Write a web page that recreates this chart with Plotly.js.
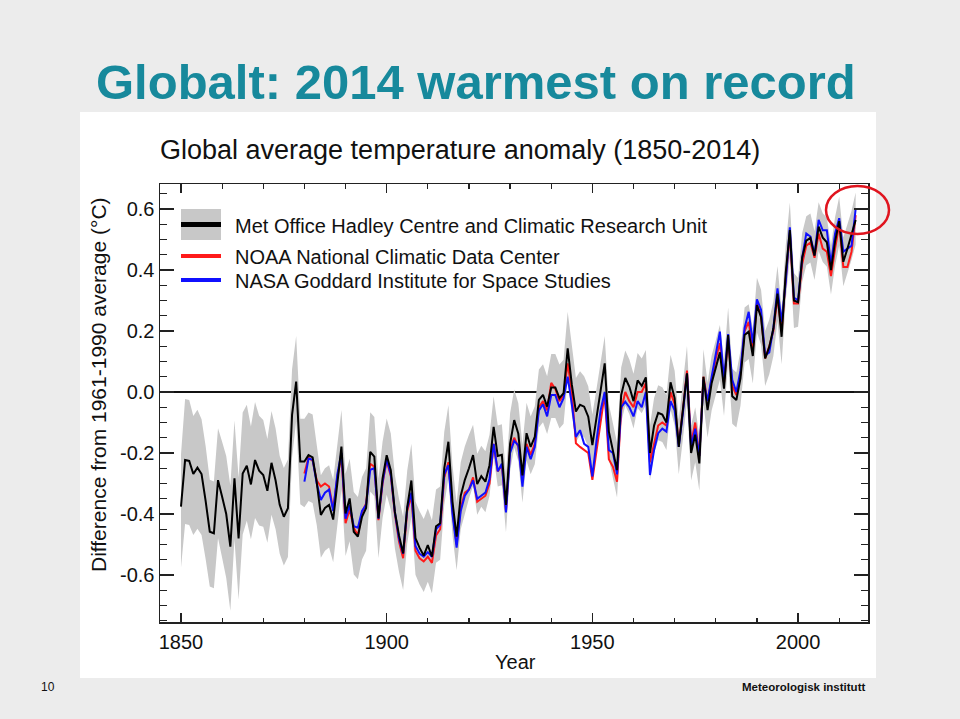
<!DOCTYPE html>
<html>
<head>
<meta charset="utf-8">
<script src="https://cdn.plot.ly/plotly-3.0.1.min.js"></script>
<style>
html,body{margin:0;padding:0;background:#ececec;}
#chart{width:960px;height:719px;}
</style>
</head>
<body>
<div id="chart"></div>
<script>
// ---------------- DATA ----------------
const hadStartYear = 1850;
// HadCRUT (Met Office Hadley Centre / CRU) annual anomaly, degC vs 1961-1990
const hadcrut = [
 -0.376,-0.223,-0.226,-0.269,-0.248,-0.269,-0.358,-0.458,-0.463,-0.289,
 -0.343,-0.400,-0.507,-0.283,-0.480,-0.267,-0.242,-0.303,-0.223,-0.258,
 -0.272,-0.324,-0.232,-0.290,-0.370,-0.409,-0.381,-0.075,0.034,-0.228,
 -0.228,-0.207,-0.214,-0.296,-0.403,-0.380,-0.370,-0.418,-0.300,-0.179,
 -0.398,-0.349,-0.458,-0.474,-0.409,-0.380,-0.196,-0.212,-0.414,-0.283,
 -0.207,-0.256,-0.393,-0.470,-0.529,-0.377,-0.290,-0.479,-0.511,-0.536,
 -0.502,-0.540,-0.440,-0.430,-0.250,-0.163,-0.360,-0.474,-0.340,-0.288,
 -0.250,-0.207,-0.302,-0.276,-0.294,-0.240,-0.114,-0.210,-0.206,-0.370,
 -0.170,-0.092,-0.137,-0.273,-0.135,-0.180,-0.147,-0.026,-0.009,-0.048,
 0.015,0.015,-0.020,-0.004,0.143,0.025,-0.064,-0.042,-0.048,-0.081,
 -0.174,-0.080,0.012,0.094,-0.129,-0.190,-0.256,-0.010,0.046,0.017,
 -0.030,0.038,0.020,0.048,-0.200,-0.110,-0.068,-0.074,-0.100,0.032,
 -0.020,-0.180,-0.065,0.061,-0.200,-0.140,-0.234,0.050,-0.059,0.030,
 0.080,0.130,0.011,0.187,-0.014,-0.026,0.045,0.187,0.198,0.118,
 0.285,0.245,0.110,0.148,0.208,0.323,0.181,0.390,0.531,0.300,
 0.294,0.441,0.496,0.505,0.447,0.542,0.506,0.491,0.400,0.494,
 0.560,0.427,0.470,0.514,0.564
];
// Uncertainty above / below the HadCRUT value (grey band)
const hadUncUp = [
 0.17,0.20,0.20,0.19,0.19,0.18,0.18,0.17,0.17,0.17,
 0.18,0.19,0.20,0.19,0.20,0.20,0.20,0.19,0.19,0.18,
 0.18,0.17,0.17,0.17,0.16,0.16,0.16,0.15,0.15,0.14,
 0.14,0.14,0.14,0.13,0.13,0.13,0.13,0.13,0.12,0.12,
 0.13,0.13,0.13,0.13,0.13,0.13,0.13,0.13,0.13,0.12,
 0.12,0.12,0.12,0.12,0.12,0.12,0.12,0.12,0.12,0.12,
 0.12,0.12,0.12,0.12,0.12,0.12,0.12,0.11,0.11,0.11,
 0.11,0.10,0.10,0.10,0.10,0.10,0.10,0.10,0.10,0.10,
 0.10,0.10,0.10,0.10,0.10,0.10,0.10,0.10,0.10,0.10,
 0.11,0.11,0.11,0.11,0.12,0.12,0.11,0.11,0.10,0.10,
 0.10,0.09,0.09,0.09,0.09,0.09,0.09,0.09,0.09,0.09,
 0.09,0.09,0.09,0.09,0.09,0.09,0.09,0.09,0.09,0.09,
 0.09,0.09,0.09,0.09,0.09,0.09,0.09,0.09,0.09,0.09,
 0.09,0.09,0.09,0.09,0.09,0.09,0.09,0.09,0.09,0.09,
 0.09,0.09,0.09,0.09,0.09,0.09,0.09,0.09,0.09,0.09,
 0.08,0.08,0.08,0.08,0.08,0.08,0.08,0.08,0.08,0.08,
 0.08,0.08,0.08,0.08,0.09
];
const hadUncDown = [
 0.20,0.21,0.21,0.20,0.20,0.20,0.19,0.18,0.18,0.19,
 0.20,0.21,0.21,0.20,0.20,0.20,0.18,0.18,0.19,0.18,
 0.17,0.17,0.17,0.16,0.16,0.16,0.16,0.14,0.13,0.14,
 0.15,0.15,0.15,0.14,0.14,0.14,0.14,0.14,0.14,0.14,
 0.14,0.14,0.14,0.14,0.14,0.14,0.13,0.13,0.13,0.13,
 0.13,0.13,0.12,0.12,0.12,0.12,0.12,0.12,0.12,0.12,
 0.12,0.12,0.12,0.12,0.12,0.12,0.11,0.11,0.11,0.11,
 0.10,0.10,0.10,0.10,0.10,0.10,0.10,0.10,0.10,0.09,
 0.09,0.09,0.09,0.09,0.09,0.09,0.09,0.09,0.09,0.09,
 0.10,0.10,0.10,0.10,0.10,0.10,0.10,0.10,0.10,0.10,
 0.10,0.09,0.09,0.09,0.09,0.09,0.09,0.09,0.09,0.09,
 0.09,0.09,0.09,0.09,0.09,0.09,0.09,0.09,0.09,0.09,
 0.09,0.09,0.09,0.09,0.09,0.09,0.09,0.09,0.09,0.09,
 0.09,0.09,0.09,0.09,0.09,0.09,0.09,0.09,0.09,0.09,
 0.09,0.09,0.09,0.09,0.09,0.09,0.09,0.09,0.09,0.09,
 0.08,0.08,0.08,0.08,0.08,0.08,0.08,0.08,0.08,0.08,
 0.08,0.08,0.08,0.08,0.08
];

const otherStartYear = 1880;
// NOAA National Climatic Data Center
const noaa = [
 -0.267,-0.215,-0.225,-0.290,-0.310,-0.300,-0.310,-0.385,-0.280,-0.210,
 -0.430,-0.385,-0.445,-0.470,-0.395,-0.365,-0.235,-0.245,-0.420,-0.300,
 -0.225,-0.275,-0.400,-0.490,-0.545,-0.390,-0.340,-0.520,-0.545,-0.555,
 -0.540,-0.560,-0.470,-0.450,-0.280,-0.230,-0.390,-0.500,-0.380,-0.330,
 -0.320,-0.280,-0.360,-0.350,-0.340,-0.300,-0.170,-0.260,-0.240,-0.390,
 -0.190,-0.150,-0.180,-0.290,-0.170,-0.205,-0.170,-0.050,-0.030,-0.060,
 0.030,0.010,-0.030,-0.010,0.094,0.000,-0.168,-0.180,-0.190,-0.200,
 -0.288,-0.190,-0.100,-0.005,-0.220,-0.245,-0.294,-0.060,0.000,-0.030,
 -0.050,0.000,0.000,0.030,-0.230,-0.170,-0.110,-0.100,-0.110,0.000,
 -0.040,-0.170,-0.060,0.070,-0.170,-0.100,-0.210,0.050,-0.030,0.040,
 0.110,0.160,0.030,0.170,0.020,-0.010,0.060,0.200,0.230,0.140,
 0.290,0.250,0.110,0.150,0.200,0.310,0.200,0.370,0.520,0.290,
 0.290,0.420,0.480,0.490,0.440,0.520,0.470,0.460,0.380,0.470,
 0.550,0.410,0.410,0.460,0.580
];
// NASA Goddard Institute for Space Studies
const nasa = [
 -0.294,-0.218,-0.222,-0.300,-0.354,-0.330,-0.320,-0.390,-0.270,-0.200,
 -0.415,-0.370,-0.440,-0.445,-0.390,-0.370,-0.255,-0.250,-0.415,-0.295,
 -0.220,-0.270,-0.395,-0.480,-0.530,-0.380,-0.330,-0.505,-0.530,-0.540,
 -0.525,-0.540,-0.450,-0.435,-0.270,-0.240,-0.400,-0.510,-0.390,-0.340,
 -0.320,-0.290,-0.350,-0.340,-0.330,-0.285,-0.170,-0.260,-0.235,-0.395,
 -0.200,-0.160,-0.175,-0.310,-0.180,-0.220,-0.180,-0.060,-0.040,-0.080,
 -0.010,-0.010,-0.050,-0.020,0.050,-0.040,-0.147,-0.125,-0.170,-0.180,
 -0.277,-0.160,-0.060,0.000,-0.190,-0.200,-0.270,-0.050,-0.032,-0.050,
 -0.080,-0.030,-0.050,0.000,-0.272,-0.190,-0.135,-0.120,-0.130,-0.030,
 -0.060,-0.180,-0.070,0.060,-0.180,-0.120,-0.210,0.040,-0.030,0.050,
 0.130,0.198,0.040,0.190,0.040,0.000,0.070,0.210,0.263,0.160,
 0.304,0.270,0.120,0.130,0.210,0.340,0.230,0.360,0.540,0.310,
 0.300,0.440,0.520,0.510,0.450,0.564,0.530,0.530,0.420,0.520,
 0.570,0.460,0.470,0.480,0.600
];

const seriesNames = [
 'Met Office Hadley Centre and Climatic Research Unit',
 'NOAA National Climatic Data Center',
 'NASA Goddard Institute for Space Studies'
];
const yTickVals = [-0.6,-0.4,-0.2,0,0.2,0.4,0.6];
const yTickText = ['-0.6','-0.4','-0.2','0.0','0.2','0.4','0.6'];
const xTickVals = [1850,1900,1950,2000];

// ---------------- BUILD ----------------
const hadYears = hadcrut.map((_, i) => hadStartYear + i);
const otherYears = noaa.map((_, i) => otherStartYear + i);
const upper = hadcrut.map((v, i) => v + hadUncUp[i]);
const lower = hadcrut.map((v, i) => v - hadUncDown[i]);

const FONT = 'Liberation Sans, Arial, Helvetica, sans-serif';
const L = 160, R = 868, T = 184, B = 622;
const px = X => (X - L) / (R - L);
const py = Y => (B - Y) / (B - T);

const traces = [
  { x: hadYears.concat(hadYears.slice().reverse()),
    y: upper.concat(lower.slice().reverse()),
    type: 'scatter', mode: 'lines', fill: 'toself',
    fillcolor: '#c8c8c8', line: {width: 0, color: '#c8c8c8'},
    hoverinfo: 'skip', showlegend: false },
  { x: otherYears, y: noaa, type: 'scatter', mode: 'lines',
    line: {color: '#ff1a1a', width: 2}, name: seriesNames[1], showlegend: false },
  { x: otherYears, y: nasa, type: 'scatter', mode: 'lines',
    line: {color: '#1010ff', width: 2}, name: seriesNames[2], showlegend: false },
  { x: hadYears, y: hadcrut, type: 'scatter', mode: 'lines',
    line: {color: '#000000', width: 2}, name: seriesNames[0], showlegend: false }
];

const shapes = [
  // white picture panel
  {type:'rect', xref:'paper', yref:'paper', x0:px(80), x1:px(876), y0:py(678), y1:py(112),
   fillcolor:'#ffffff', line:{width:0}, layer:'below'},
  // legend keys
  {type:'rect', xref:'paper', yref:'paper', x0:px(181), x1:px(221), y0:py(240), y1:py(209),
   fillcolor:'#c8c8c8', line:{width:0}},
  {type:'line', xref:'paper', yref:'paper', x0:px(181), x1:px(221), y0:py(224.5), y1:py(224.5),
   line:{color:'#000', width:5}},
  {type:'line', xref:'paper', yref:'paper', x0:px(181), x1:px(221), y0:py(256), y1:py(256),
   line:{color:'#ff1a1a', width:4}},
  {type:'line', xref:'paper', yref:'paper', x0:px(181), x1:px(221), y0:py(280), y1:py(280),
   line:{color:'#1010ff', width:4}},
  // red highlight ellipse
  {type:'circle', xref:'paper', yref:'paper', x0:px(826), x1:px(889), y0:py(234), y1:py(186),
   line:{color:'#e0141e', width:2.5}}
];

const annotations = [
  {text:'Globalt: 2014 warmest on record', xref:'paper', yref:'paper', x:px(476), y:py(82),
   xanchor:'center', yanchor:'middle', showarrow:false,
   font:{family:FONT, size:49, color:'#17899c', weight:'bold'}},
  {text:'Global average temperature anomaly (1850-2014)', xref:'paper', yref:'paper',
   x:px(460), y:py(150), xanchor:'center', yanchor:'middle', showarrow:false,
   font:{family:FONT, size:27, color:'#111'}},
  {text:seriesNames[0], xref:'paper', yref:'paper', x:px(233), y:py(225.5),
   xanchor:'left', yanchor:'middle', showarrow:false, font:{family:FONT, size:20, color:'#111'}},
  {text:seriesNames[1], xref:'paper', yref:'paper', x:px(233), y:py(256.5),
   xanchor:'left', yanchor:'middle', showarrow:false, font:{family:FONT, size:20, color:'#111'}},
  {text:seriesNames[2], xref:'paper', yref:'paper', x:px(233), y:py(280.5),
   xanchor:'left', yanchor:'middle', showarrow:false, font:{family:FONT, size:20, color:'#111'}},
  {text:'Difference from 1961-1990 average (°C)', xref:'paper', yref:'paper',
   x:px(98), y:py(385), textangle:-90, xanchor:'center', yanchor:'middle', showarrow:false,
   font:{family:FONT, size:21, color:'#111'}},
  {text:'Year', xref:'paper', yref:'paper', x:px(515), y:py(662),
   xanchor:'center', yanchor:'middle', showarrow:false, font:{family:FONT, size:20, color:'#111'}},
  {text:'10', xref:'paper', yref:'paper', x:px(48), y:py(687),
   xanchor:'center', yanchor:'middle', showarrow:false, font:{family:FONT, size:12, color:'#111'}},
  {text:'Meteorologisk institutt', xref:'paper', yref:'paper', x:px(867), y:py(687),
   xanchor:'right', yanchor:'middle', showarrow:false,
   font:{family:FONT, size:11.5, color:'#111', weight:'bold'}}
];

const layout = {
  width: 960, height: 719,
  margin: {l: L, r: 960 - R, t: T, b: 719 - B, pad: 0},
  paper_bgcolor: '#ececec', plot_bgcolor: '#ffffff',
  font: {family: FONT, color: '#111'},
  showlegend: false,
  xaxis: {
    range: [1844.9, 2017], tickmode: 'array', tickvals: xTickVals,
    ticks: 'inside', ticklen: 9, tickwidth: 1.2, tickcolor: '#222',
    minor: {dtick: 10, tick0: 1850, ticks: 'inside', ticklen: 4.5, tickwidth: 1.2, tickcolor: '#222', showgrid: false},
    showline: true, linecolor: '#222', linewidth: 1.5, mirror: 'ticks',
    showgrid: false, zeroline: false,
    tickfont: {family: FONT, size: 20, color: '#111'}, ticklabelstandoff: 1
  },
  yaxis: {
    range: [-0.754, 0.682], tickmode: 'array', tickvals: yTickVals, ticktext: yTickText,
    ticks: 'inside', ticklen: 14, tickwidth: 1.2, tickcolor: '#222',
    minor: {dtick: 0.05, tick0: 0, ticks: 'inside', ticklen: 7, tickwidth: 1.2, tickcolor: '#222', showgrid: false},
    showline: true, linecolor: '#222', linewidth: 1.5, mirror: 'ticks',
    showgrid: false, zeroline: true, zerolinecolor: '#111', zerolinewidth: 1.5,
    tickfont: {family: FONT, size: 20, color: '#111'}, ticklabelstandoff: 0
  },
  shapes: shapes,
  annotations: annotations
};

Plotly.newPlot('chart', traces, layout, {staticPlot: true, displayModeBar: false});
</script>
</body>
</html>
